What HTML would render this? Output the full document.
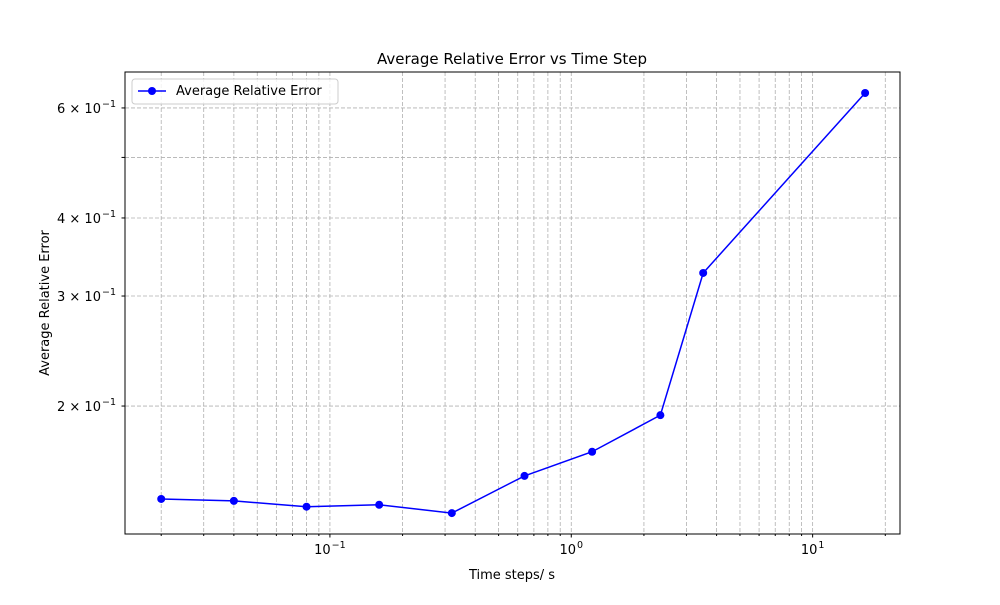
<!DOCTYPE html>
<html><head><meta charset="utf-8"><style>
body{margin:0;background:#fff;font-family:"Liberation Sans","DejaVu Sans",sans-serif}
</style></head><body>
<svg width="1000" height="600" xmlns="http://www.w3.org/2000/svg" font-family="DejaVu Sans, Liberation Sans, sans-serif">
<g id="grid"></g>
<rect x="125" y="72" width="775" height="462" fill="none" stroke="#000" stroke-width="1"/>
<g id="axes"></g>
<g id="series"></g>
<text x="512" y="64" text-anchor="middle" font-size="15">Average Relative Error vs Time Step</text>
<text x="512" y="579" text-anchor="middle" font-size="13">Time steps/ s</text>
<text transform="translate(49,303) rotate(-90)" text-anchor="middle" font-size="13">Average Relative Error</text>
<g>
<rect x="132" y="79" width="206" height="25" rx="3" fill="#fff" fill-opacity="0.8" stroke="#ccc"/>
<line x1="138" y1="91" x2="166" y2="91" stroke="#0000ff" stroke-width="1.5"/>
<circle cx="152" cy="91" r="4" fill="#0000ff"/>
<text x="176" y="95" font-size="13">Average Relative Error</text>
</g>
</svg>
<script>
const xValues=[0.02,0.04,0.08,0.16,0.32,0.64,1.22,2.34,3.52,16.5];
const yValues=[0.142,0.141,0.138,0.139,0.1348,0.1546,0.169,0.1934,0.3266,0.634];
const xTickLabels=["10","10","10"];
const xTickExps=["−1","0","1"];
const yTickVals=[0.2,0.3,0.4,0.6];
const yTickLabels=["2","3","4","6"];
const NS="http://www.w3.org/2000/svg";
const X0=125,X1=900,Y0=72,Y1=534;
const xmin=-1.849,xmax=1.362,ymin=Math.log10(0.1248),ymax=Math.log10(0.685);
const sx=v=>X0+(Math.log10(v)-xmin)/(xmax-xmin)*(X1-X0);
const sy=v=>Y1-(Math.log10(v)-ymin)/(ymax-ymin)*(Y1-Y0);
function mk(t,a,p){const e=document.createElementNS(NS,t);for(const k in a)e.setAttribute(k,a[k]);p.appendChild(e);return e;}
const grid=document.getElementById('grid'),axes=document.getElementById('axes'),ser=document.getElementById('series');
for(let d=-2;d<=1;d++){for(let m=1;m<10;m++){const v=m*Math.pow(10,d);const x=sx(v);if(x<X0||x>X1)continue;
const g=mk('line',{x1:x,x2:x,y1:Y0,y2:Y1,stroke:'#b0b0b0','stroke-dasharray':'4,2','stroke-width':0.8},grid);


mk('line',{x1:x,x2:x,y1:Y1,y2:Y1+(m==1?3.5:2),stroke:'#000'},axes);}}
[-1,0,1].forEach((d,i)=>{const x=sx(Math.pow(10,d));
const t=mk('text',{x:x,y:Y1+20,'text-anchor':'middle','font-size':13},axes);


mk('tspan',{},t).textContent=xTickLabels[i];
const s=mk('tspan',{'font-size':9.5,dy:-6,dx:1},t);s.textContent=xTickExps[i];});
[0.2,0.3,0.4,0.5,0.6].forEach(v=>{const y=sy(v);
const g=mk('line',{x1:X0,x2:X1,y1:y,y2:y,stroke:'#b0b0b0','stroke-dasharray':'4,2','stroke-width':0.8},grid);


mk('line',{x1:X0-3.5,x2:X0,y1:y,y2:y,stroke:'#000'},axes);});
yTickVals.forEach((v,i)=>{const y=sy(v);
const t=mk('text',{x:X0-9,y:y+5,'text-anchor':'end','font-size':13},axes);


mk('tspan',{},t).textContent=yTickLabels[i]+" \u00d7 10";
const s=mk('tspan',{'font-size':9.5,dy:-6,dx:1},t);s.textContent="−1";});
const pts=xValues.map((v,i)=>sx(v)+','+sy(yValues[i])).join(' ');
const pl=mk('polyline',{points:pts,fill:'none',stroke:'#0000ff','stroke-width':1.5},ser);


xValues.forEach((v,i)=>{const c=mk('circle',{cx:sx(v),cy:sy(yValues[i]),r:4,fill:'#0000ff'},ser);

});
</script>
</body></html>
